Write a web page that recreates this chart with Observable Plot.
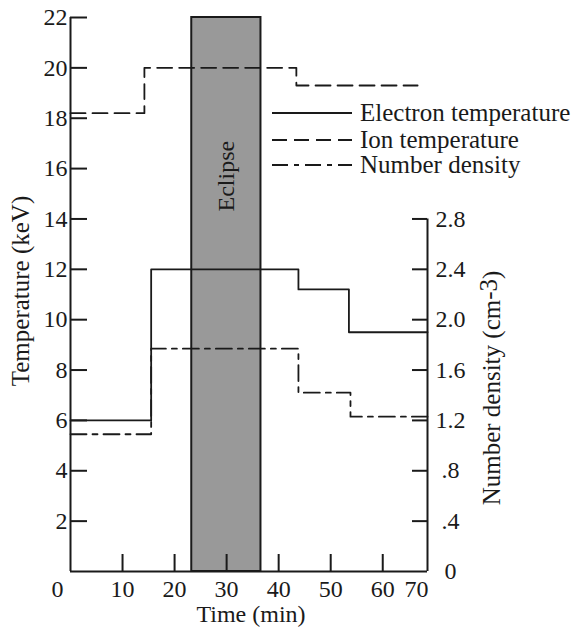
<!DOCTYPE html>
<html>
<head>
<meta charset="utf-8">
<script src="https://cdn.jsdelivr.net/npm/d3@7"></script>
<script src="https://cdn.jsdelivr.net/npm/@observablehq/plot@0.6"></script>
<style>
  html, body { margin: 0; padding: 0; background: #fff; }
  #chart svg { display: block; }
</style>
</head>
<body>
<div id="chart"></div>
<script>
// Step profiles of plasma conditions around an eclipse
const electronTime = [0, 15.5, 43.8, 53.5, 68.6];
const electronKeV  = [6, 12, 11.2, 9.5, 9.5];

const ionTime = [0, 14.2, 43.4, 66.7];
const ionKeV  = [18.2, 20, 19.3, 19.3];

const densityTime = [0, 15.5, 43.8, 53.8, 68.6];
const densityCm3  = [1.09, 1.77, 1.42, 1.23, 1.23];

const eclipseStart = 23.3;
const eclipseEnd = 36.6;

const timeTicks = [0, 10, 20, 30, 40, 50, 60, 70];
const timeTickLabels = ["0", "10", "20", "30", "40", "50", "60", "70"];
const tempTicks = [2, 4, 6, 8, 10, 12, 14, 16, 18, 20, 22];
const tempTickLabels = ["2", "4", "6", "8", "10", "12", "14", "16", "18", "20", "22"];
const densityTicks = [0, 0.4, 0.8, 1.2, 1.6, 2.0, 2.4, 2.8];
const densityTickLabels = ["0", ".4", ".8", "1.2", "1.6", "2.0", "2.4", "2.8"];

const legendNames = ["Electron temperature", "Ion temperature", "Number density"];

// right-hand density axis shares the temperature scale: 2.8 cm-3 sits at 14 keV
const keVPerDensity = 5;
const timeMax = 68.6;   // where the right axis stands
const tempMax = 22;

const W = 574, H = 629;
const mL = 70, mR = 147, mT = 17, mB = 58;
const frameW = W - mL - mR, frameH = H - mT - mB;
const ink = "#1a1a1a";
const font = "'Liberation Serif', 'Times New Roman', serif";

const rows = (xs, ys, k = 1) => xs.map((t, i) => ({t, v: ys[i] * k}));
const electron = rows(electronTime, electronKeV);
const ion = rows(ionTime, ionKeV);
const density = rows(densityTime, densityCm3, keVPerDensity);

const idx = a => a.map((_, i) => i);
const midTime = idx(timeTicks).filter(i => i > 0 && i < timeTicks.length - 1);
const rightIdx = idx(densityTicks).filter(i => densityTicks[i] > 0);

const chart = Plot.plot({
  width: W,
  height: H,
  marginLeft: mL,
  marginRight: mR,
  marginTop: mT,
  marginBottom: mB,
  x: {domain: [0, timeMax], axis: null},
  y: {domain: [0, tempMax], axis: null},
  style: {fontFamily: font, fontSize: "24px", color: ink, background: "#fff", overflow: "visible"},
  marks: [
    // eclipse band
    Plot.rect([0], {x1: () => eclipseStart, x2: () => eclipseEnd, y1: () => 0, y2: () => tempMax,
      fill: "#999999", stroke: ink, strokeWidth: 2}),
    Plot.text(["Eclipse"], {x: () => (eclipseStart + eclipseEnd) / 2, y: () => 15.7, text: d => d,
      rotate: -90, lineAnchor: "middle", fill: ink}),

    // axis lines
    Plot.ruleX([0], {y1: 0, y2: tempMax, stroke: ink, strokeWidth: 2}),
    Plot.ruleY([0], {x1: 0, x2: timeMax, stroke: ink, strokeWidth: 2}),
    Plot.ruleX([timeMax], {y1: 0, y2: d3.max(densityTicks) * keVPerDensity, stroke: ink, strokeWidth: 2}),

    // inward tick marks
    Plot.tickY(tempTicks, {y: d => d, insetRight: frameW - 17, stroke: ink, strokeWidth: 2}),
    Plot.tickX(midTime, {x: i => timeTicks[i], insetTop: frameH - 17, stroke: ink, strokeWidth: 2}),
    Plot.tickY(rightIdx, {y: i => densityTicks[i] * keVPerDensity, insetLeft: frameW - 15, stroke: ink, strokeWidth: 2}),

    // tick labels
    Plot.text(idx(tempTicks), {x: 0, y: i => tempTicks[i], text: i => tempTickLabels[i],
      textAnchor: "end", lineAnchor: "middle", dx: -3, fill: ink}),
    Plot.text(midTime, {x: i => timeTicks[i], y: 0, text: i => timeTickLabels[i],
      lineAnchor: "middle", dy: 18, fill: ink}),
    Plot.text([0], {x: () => timeTicks[0], y: 0, text: () => timeTickLabels[0],
      textAnchor: "end", lineAnchor: "middle", dx: -7, dy: 18, fill: ink}),
    Plot.text([0], {x: () => Math.min(timeTicks[timeTicks.length - 1], timeMax), y: 0,
      text: () => timeTickLabels[timeTickLabels.length - 1],
      textAnchor: "end", lineAnchor: "middle", dx: 1, dy: 18, fill: ink}),
    Plot.text(idx(densityTicks), {x: timeMax, y: i => densityTicks[i] * keVPerDensity,
      text: i => densityTickLabels[i], lineAnchor: "middle", dx: 23, fill: ink}),

    // series
    Plot.line(density, {x: "t", y: "v", curve: "step-after", stroke: ink, strokeWidth: 1.8,
      strokeDasharray: "16,6,5,6"}),
    Plot.line(ion, {x: "t", y: "v", curve: "step-after", stroke: ink, strokeWidth: 1.8,
      strokeDasharray: "15,7"}),
    Plot.line(electron, {x: "t", y: "v", curve: "step-after", stroke: ink, strokeWidth: 1.8})
  ]
});

const svg = d3.select(chart);
const addText = (sel, size = 25) => sel
  .attr("fill", ink)
  .style("font-family", font)
  .style("font-size", size + "px");

// axis titles
addText(svg.append("text"))
  .attr("transform", "translate(29,291) rotate(-90)")
  .attr("text-anchor", "middle")
  .text("Temperature (keV)");

addText(svg.append("text"), 24)
  .attr("x", 251).attr("y", 622)
  .attr("text-anchor", "middle")
  .text("Time (min)");

const dens = addText(svg.append("text"))
  .attr("transform", "translate(500,388) rotate(-90)")
  .attr("text-anchor", "middle");
dens.append("tspan").text("Number density (cm");
dens.append("tspan").attr("dy", -3).text("-3");
dens.append("tspan").attr("dy", 3).text(")");

// legend
const legendDash = [null, "15,7", "16,6,5,6"];
const legendY = [113, 140, 165];
const legend = svg.append("g");
legendNames.forEach((name, i) => {
  legend.append("line")
    .attr("x1", 272).attr("x2", 352)
    .attr("y1", legendY[i]).attr("y2", legendY[i])
    .attr("stroke", ink).attr("stroke-width", 1.8)
    .attr("stroke-dasharray", legendDash[i]);
  addText(legend.append("text"))
    .attr("x", 360).attr("y", legendY[i] + 8)
    .attr("text-anchor", "start")
    .text(name);
});

document.getElementById("chart").appendChild(chart);
</script>
</body>
</html>
